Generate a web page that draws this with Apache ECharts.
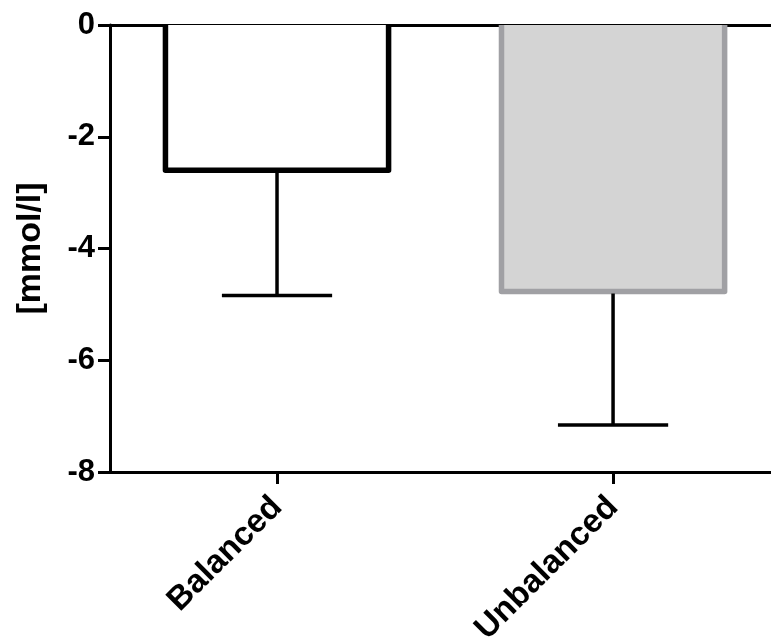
<!DOCTYPE html>
<html>
<head>
<meta charset="utf-8">
<script src="https://cdn.jsdelivr.net/npm/echarts@6/dist/echarts.min.js"></script>
<style>
  html, body { margin: 0; padding: 0; background: #fff; }
  #chart { width: 771px; height: 643px; }
</style>
</head>
<body>
<div id="chart"></div>
<script>
// group names and values
const categories = ['Balanced', 'Unbalanced'];
const means = [-2.6, -4.77];
const sd = [2.24, 2.39];          // one-sided (downward) error bars
const yTicks = { min: -8, max: 0, interval: 2 };
const fills = ['#ffffff', '#d4d4d4'];
const borders = ['#000000', '#a0a0a4'];

const font = 'Liberation Sans, Arial, sans-serif';
let chart = echarts.init(document.getElementById('chart'));

const barData = means.map((v, i) => [i, v]);
const errData = means.map((v, i) => [i, v, v - sd[i]]);
const catIdx = categories.map((c, i) => i);

// x is a value axis so the second group can sit past the canvas edge like the original
let option = {
    animation: false,
    grid: { left: 110, top: 25, right: 0, bottom: 171, outerBoundsMode: 'none' },
    xAxis: [
        {
            type: 'value',
            min: -0.497,
            max: 1.47,
            position: 'bottom',
            splitLine: { show: false },
            axisLine: { onZero: false, lineStyle: { color: '#000', width: 3 } },
            axisTick: { length: 12, lineStyle: { color: '#000', width: 3 }, customValues: catIdx },
            axisLabel: {
                customValues: catIdx,
                formatter: v => categories[v],
                rotate: 45, color: '#000', fontFamily: font, fontWeight: 'bold', fontSize: 33,
                margin: 30
            }
        },
        {
            // line at 0 along the top
            type: 'value',
            min: -0.497,
            max: 1.47,
            position: 'top',
            splitLine: { show: false },
            axisLine: { show: true, onZero: false, lineStyle: { color: '#000', width: 3 } },
            axisTick: { show: false },
            axisLabel: { show: false }
        }
    ],
    yAxis: {
        type: 'value',
        min: yTicks.min,
        max: yTicks.max,
        interval: yTicks.interval,
        name: '[mmol/l]',
        nameLocation: 'middle',
        nameGap: 62,
        nameTextStyle: { color: '#000', fontFamily: font, fontWeight: 'bold', fontSize: 34 },
        splitLine: { show: false },
        axisLine: { show: true, onZero: false, lineStyle: { color: '#000', width: 3 } },
        axisTick: { show: true, length: 12, lineStyle: { color: '#000', width: 3 } },
        axisLabel: { color: '#000', fontFamily: font, fontWeight: 'bold', fontSize: 31, margin: 15 }
    },
    series: [
        {
            name: 'bars',
            type: 'custom',
            data: barData,
            z: 2,
            renderItem: function (params, api) {
                let i = api.value(0);
                let top = api.coord([i, 0]);
                let bot = api.coord([i, api.value(1)]);
                let w = api.size([1, 0])[0] * 0.664;
                let x0 = top[0] - w / 2, x1 = top[0] + w / 2;
                return {
                    type: 'group',
                    children: [
                        {
                            type: 'rect',
                            shape: { x: x0, y: top[1], width: w, height: bot[1] - top[1] },
                            style: { fill: fills[i] }
                        },
                        {
                            type: 'polyline',
                            shape: { points: [[x0, top[1]], [x0, bot[1]], [x1, bot[1]], [x1, top[1]]] },
                            style: { stroke: borders[i], lineWidth: 5.5, fill: null, lineJoin: 'round' }
                        }
                    ]
                };
            }
        },
        {
            name: 'error',
            type: 'custom',
            data: errData,
            z: 3,
            renderItem: function (params, api) {
                let i = api.value(0);
                let a = api.coord([i, api.value(1)]);
                let b = api.coord([i, api.value(2)]);
                let half = api.size([1, 0])[0] * 0.164;
                let st = { stroke: '#000', lineWidth: 3.5 };
                return {
                    type: 'group',
                    children: [
                        { type: 'line', shape: { x1: a[0], y1: a[1] + 2, x2: b[0], y2: b[1] }, style: st },
                        { type: 'line', shape: { x1: b[0] - half, y1: b[1], x2: b[0] + half, y2: b[1] }, style: st }
                    ]
                };
            }
        }
    ]
};
chart.setOption(option);
</script>
</body>
</html>
